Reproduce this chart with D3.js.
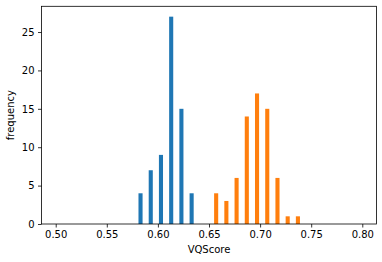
<!DOCTYPE html>
<html>
<head>
<meta charset="utf-8">
<script src="https://cdn.jsdelivr.net/npm/d3@7"></script>
<style>
  html, body { margin: 0; padding: 0; background: #fff; }
  svg { display: block; }
  text { font-family: "DejaVu Sans", sans-serif; }
</style>
</head>
<body>
<script>
// Histogram bins: 30 bins of width 0.01 from 0.50 to 0.80
const binStarts = d3.range(30).map(i => +(0.50 + i * 0.01).toFixed(2));
const blueCounts = [0,0,0,0,0,0,0,0,4,7,9,27,15,4,0,0,0,0,0,0,0,0,0,0,0,0,0,0,0,0];
const orangeCounts = [0,0,0,0,0,0,0,0,0,0,0,0,0,0,0,4,3,6,14,17,15,6,1,1,0,0,0,0,0,0];
const xTicks = [0.50, 0.55, 0.60, 0.65, 0.70, 0.75, 0.80];
const yTicks = [0, 5, 10, 15, 20, 25];
const seriesColors = ["#1f77b4", "#ff7f0e"];
const xLabel = "VQScore";
const yLabel = "frequency";

const W = 382, H = 262;
const mLeft = 41.5, mRight = 376.5, mTop = 6.3, mBottom = 224;
const binW = 0.01;

const svg = d3.select("body").append("svg").attr("width", W).attr("height", H);

const x = d3.scaleLinear().domain([0.4861, 0.8139]).range([mLeft, mRight]);
const y = d3.scaleLinear().domain([0, 28.35]).range([mBottom, mTop]);

const series = [blueCounts, orangeCounts];
series.forEach((counts, si) => {
  svg.append("g").selectAll("rect")
    .data(binStarts.map((b, i) => ({ b, c: counts[i] })).filter(d => d.c > 0))
    .join("rect")
    .attr("x", d => x(d.b + binW * (0.1 + 0.4 * si)))
    .attr("width", d => x(d.b + binW * (0.1 + 0.4 * (si + 1))) - x(d.b + binW * (0.1 + 0.4 * si)))
    .attr("y", d => y(d.c))
    .attr("height", d => y(0) - y(d.c))
    .attr("fill", seriesColors[si]);
});

// Axes
const xAxis = d3.axisBottom(x).tickValues(xTicks).tickFormat(d3.format(".2f")).tickSize(3.5).tickPadding(3.5);
const yAxis = d3.axisLeft(y).tickValues(yTicks).tickFormat(d3.format("d")).tickSize(3.5).tickPadding(3.5);

const gx = svg.append("g").attr("transform", `translate(0,${mBottom})`).call(xAxis);
const gy = svg.append("g").attr("transform", `translate(${mLeft},0)`).call(yAxis);
[gx, gy].forEach(g => {
  g.select(".domain").remove();
  g.selectAll("line").attr("stroke", "#000").attr("stroke-width", 0.8);
  g.selectAll("text").attr("font-size", 10).attr("fill", "#000").attr("font-family", "DejaVu Sans, sans-serif");
});

// Frame
svg.append("rect")
  .attr("x", mLeft).attr("y", mTop)
  .attr("width", mRight - mLeft).attr("height", mBottom - mTop)
  .attr("fill", "none").attr("stroke", "#000").attr("stroke-width", 0.8);

// Labels
svg.append("text")
  .attr("x", (mLeft + mRight) / 2).attr("y", 253)
  .attr("text-anchor", "middle").attr("font-size", 10).attr("fill", "#000")
  .text(xLabel);

svg.append("text")
  .attr("transform", `translate(14,${(mTop + mBottom) / 2}) rotate(-90)`)
  .attr("text-anchor", "middle").attr("font-size", 10).attr("fill", "#000")
  .text(yLabel);
</script>
</body>
</html>
